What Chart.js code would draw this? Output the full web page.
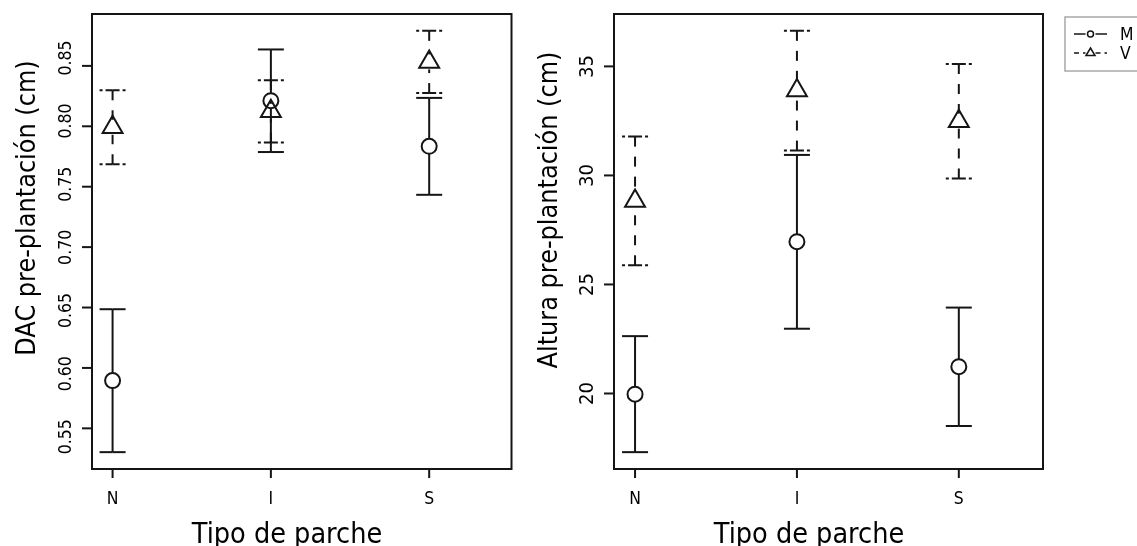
<!DOCTYPE html>
<html lang="es">
<head>
<meta charset="UTF-8">
<title>DAC y altura pre-plantación por tipo de parche</title>
<script src="https://cdn.jsdelivr.net/npm/chart.js@4.4.0/dist/chart.umd.min.js"></script>
<style>
  html, body { margin: 0; padding: 0; background: #fff; overflow: hidden; }
  #izq { position: absolute; left: 0; top: 0; }
  #der { position: absolute; left: 525px; top: 0; }
</style>
</head>
<body>
<canvas id="izq" width="525" height="546"></canvas>
<canvas id="der" width="612" height="546"></canvas>

<script>
// Tipo de parche (eje x)
const parches = ['N', 'I', 'S'];
const series = ['M', 'V'];

// DAC pre-plantación (cm): media e intervalo
const dacM = [0.5895, 0.8212, 0.7834];
const dacMBajo = [0.5303, 0.7787, 0.7433];
const dacMAlto = [0.6486, 0.8636, 0.8235];
const dacV = [0.7992, 0.8124, 0.8533];
const dacVBajo = [0.7686, 0.7865, 0.8275];
const dacVAlto = [0.8298, 0.8382, 0.8790];

// Altura pre-plantación (cm): media e intervalo
const altM = [19.97, 26.96, 21.23];
const altMBajo = [17.31, 22.97, 18.51];
const altMAlto = [22.63, 30.94, 23.94];
const altV = [28.83, 33.89, 32.49];
const altVBajo = [25.88, 31.14, 29.86];
const altVAlto = [31.78, 36.63, 35.11];

// marcas de los ejes y
const dacTicks = [0.55, 0.60, 0.65, 0.70, 0.75, 0.80, 0.85];
const altTicks = [20, 25, 30, 35];

const TINTA = '#151515';
const FUENTE = '"DejaVu Sans", Verdana, sans-serif';
const X_MIN = 0.87, X_MAX = 3.52;

// rango como en R: 4% extra a cada lado
function rango(bajos, altos) {
  const lo = Math.min(...bajos), hi = Math.max(...altos);
  const d = (hi - lo) * 0.04;
  return [lo - d, hi + d];
}

function linea(ctx, x1, y1, x2, y2) {
  ctx.beginPath();
  ctx.moveTo(x1, y1);
  ctx.lineTo(x2, y2);
  ctx.stroke();
}

// texto con giro opcional y algo estrechado
function texto(ctx, s, x, y, giro, ancho) {
  ctx.save();
  ctx.translate(x, y);
  if (giro) ctx.rotate(giro);
  ctx.scale(ancho, 1);
  ctx.fillText(s, 0, 0);
  ctx.restore();
}

// plugin que dibuja barras de error, marco, ejes y títulos al estilo R
function crearPanel(cfg) {
  return {
    id: 'panel',
    beforeDatasetsDraw(chart) {
      const ctx = chart.ctx;
      const { x, y } = chart.scales;
      const GAP = 7.5, CAP = 13;
      cfg.barras.forEach(b => {
        ctx.save();
        ctx.strokeStyle = TINTA;
        ctx.lineWidth = 2;
        b.medias.forEach((m, i) => {
          const px = x.getPixelForValue(i + 1);
          const pm = y.getPixelForValue(m);
          const pl = y.getPixelForValue(b.bajos[i]);
          const ph = y.getPixelForValue(b.altos[i]);
          ctx.setLineDash(b.guion);
          linea(ctx, px, ph, px, pm - GAP);
          linea(ctx, px, pl, px, pm + GAP);
          ctx.setLineDash(b.guionCap);
          [ph, pl].forEach(py => {
            linea(ctx, px, py, px - CAP, py);
            linea(ctx, px, py, px + CAP, py);
          });
        });
        ctx.restore();
      });
    },
    afterDraw(chart) {
      const ctx = chart.ctx;
      const a = chart.chartArea;
      const { x, y } = chart.scales;
      ctx.save();
      ctx.strokeStyle = TINTA;
      ctx.fillStyle = '#000';
      ctx.lineWidth = 2;
      ctx.setLineDash([]);
      ctx.strokeRect(a.left, a.top, a.right - a.left, a.bottom - a.top);

      // eje x
      ctx.font = '17px ' + FUENTE;
      ctx.textAlign = 'center';
      ctx.textBaseline = 'alphabetic';
      parches.forEach((p, i) => {
        const px = x.getPixelForValue(i + 1);
        linea(ctx, px, a.bottom, px, a.bottom + 9);
        texto(ctx, p, px, a.bottom + 35, 0, 0.92);
      });

      // eje y (etiquetas giradas)
      ctx.font = cfg.fuenteTick + 'px ' + FUENTE;
      const medio = (a.top + a.bottom) / 2;
      cfg.ticks.forEach(t => {
        const py = y.getPixelForValue(t);
        linea(ctx, a.left - 10, py, a.left, py);
        const ly = py + (py - medio) * cfg.separa;
        texto(ctx, cfg.formato(t), a.left - 21, ly, -Math.PI / 2, cfg.anchoTick);
      });

      // títulos
      ctx.font = '28.5px ' + FUENTE;
      texto(ctx, 'Tipo de parche', a.left + 195, 543, 0, 0.9);
      ctx.font = '27px ' + FUENTE;
      texto(ctx, cfg.titulo, a.left - 57, cfg.tituloY, -Math.PI / 2, 0.89);

      if (cfg.leyenda) {
        const L = cfg.leyenda;
        ctx.strokeStyle = '#a8a8a8';
        ctx.lineWidth = 1.5;
        ctx.strokeRect(L.x, L.y, 100, L.h);
        ctx.strokeStyle = TINTA;
        ctx.lineWidth = 1.5;
        ctx.font = '17px ' + FUENTE;
        ctx.textAlign = 'left';
        series.forEach((s, k) => {
          const ly = L.y + 17 + k * 19;
          const x1 = L.x + 9, x2 = L.x + 42, xc = (x1 + x2) / 2;
          ctx.setLineDash(k === 0 ? [] : [5, 4]);
          linea(ctx, x1, ly, xc - 5, ly);
          linea(ctx, xc + 5, ly, x2, ly);
          ctx.setLineDash([]);
          ctx.beginPath();
          if (k === 0) {
            ctx.arc(xc, ly, 3, 0, Math.PI * 2);
          } else {
            ctx.moveTo(xc, ly - 5);
            ctx.lineTo(xc + 4.5, ly + 2.6);
            ctx.lineTo(xc - 4.5, ly + 2.6);
            ctx.closePath();
          }
          ctx.stroke();
          texto(ctx, s, L.x + 55, ly + 6, 0, 0.92);
        });
      }
      ctx.restore();
    }
  };
}

function puntos(valores) {
  return valores.map((v, i) => ({ x: i + 1, y: v }));
}

function crearGrafico(id, medias, yRango, padding, cfg) {
  return new Chart(document.getElementById(id), {
    type: 'scatter',
    data: {
      datasets: [
        {
          label: series[0],
          data: puntos(medias[0]),
          pointStyle: 'circle',
          pointRadius: 7.5,
          borderWidth: 2,
          borderColor: TINTA,
          backgroundColor: 'rgba(0,0,0,0)'
        },
        {
          label: series[1],
          data: puntos(medias[1]),
          pointStyle: 'triangle',
          pointRadius: 11.5,
          borderWidth: 2,
          borderColor: TINTA,
          backgroundColor: 'rgba(0,0,0,0)'
        }
      ]
    },
    options: {
      responsive: false,
      animation: false,
      events: [],
      layout: { padding: padding },
      plugins: { legend: { display: false }, tooltip: { enabled: false } },
      scales: {
        x: { type: 'linear', min: X_MIN, max: X_MAX, display: false },
        y: { type: 'linear', min: yRango[0], max: yRango[1], display: false }
      }
    },
    plugins: [crearPanel(cfg)]
  });
}

crearGrafico('izq', [dacM, dacV],
  rango([...dacMBajo, ...dacVBajo], [...dacMAlto, ...dacVAlto]),
  { left: 92, right: 10, top: 14, bottom: 77 },
  {
    titulo: 'DAC pre-plantación (cm)',
    tituloY: 208,
    ticks: dacTicks,
    fuenteTick: 18.5,
    anchoTick: 0.85,
    separa: 0.045,
    formato: t => t.toFixed(2),
    barras: [
      { medias: dacM, bajos: dacMBajo, altos: dacMAlto, guion: [], guionCap: [] },
      { medias: dacV, bajos: dacVBajo, altos: dacVAlto, guion: [10, 10], guionCap: [7, 3] }
    ]
  });

crearGrafico('der', [altM, altV],
  rango([...altMBajo, ...altVBajo], [...altMAlto, ...altVAlto]),
  { left: 89, right: 94, top: 14, bottom: 77 },
  {
    titulo: 'Altura pre-plantación (cm)',
    tituloY: 210,
    ticks: altTicks,
    fuenteTick: 19,
    anchoTick: 0.95,
    separa: 0,
    formato: t => String(t),
    barras: [
      { medias: altM, bajos: altMBajo, altos: altMAlto, guion: [], guionCap: [] },
      { medias: altV, bajos: altVBajo, altos: altVAlto, guion: [10, 10], guionCap: [7, 3] }
    ],
    leyenda: { x: 540, y: 17, h: 54 }
  });
</script>
</body>
</html>
